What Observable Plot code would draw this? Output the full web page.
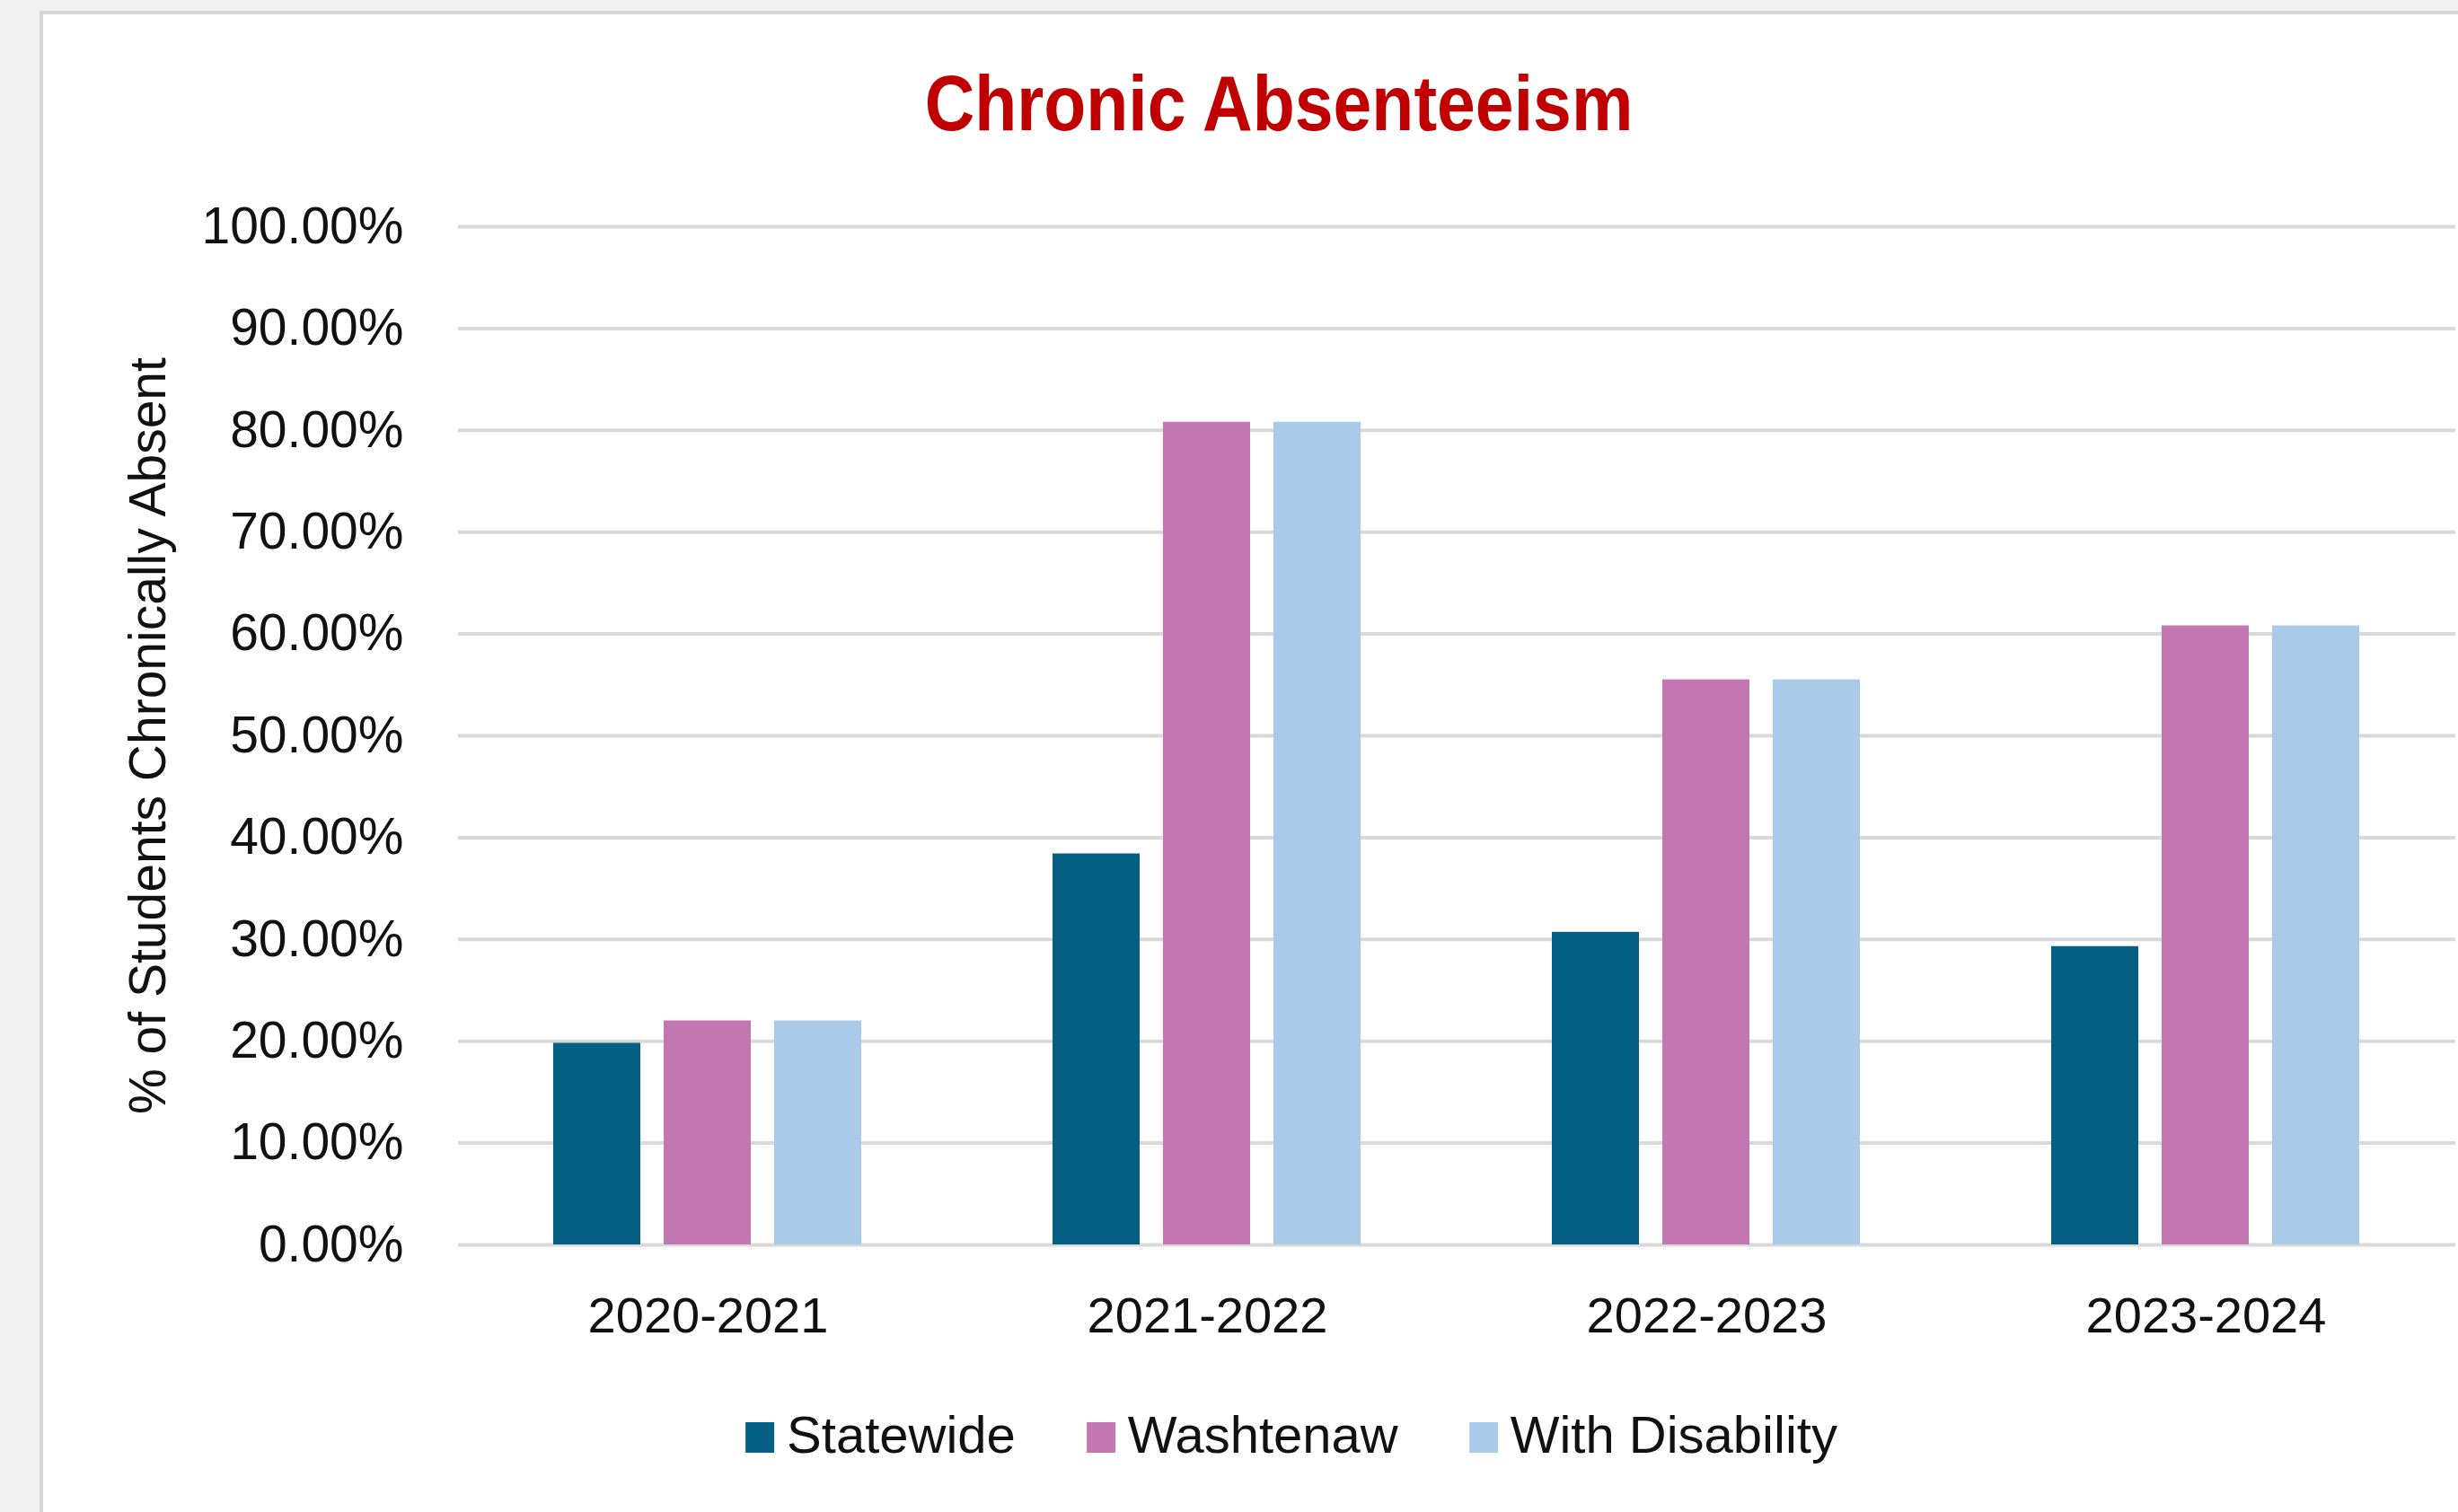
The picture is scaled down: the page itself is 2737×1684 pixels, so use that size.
<!DOCTYPE html>
<html>
<head>
<meta charset="utf-8">
<script src="https://cdn.jsdelivr.net/npm/d3@7"></script>
<script src="https://cdn.jsdelivr.net/npm/@observablehq/plot@0.6"></script>
<style>
  html, body { margin: 0; padding: 0; overflow: hidden; width: 2737px; height: 1684px; background: #f3f2f2; }
  #box { position: absolute; left: 44px; top: 12px; width: 3000px; height: 2000px; background: #ffffff;
         border-left: 4px solid #d6d6d6; border-top: 4px solid #d6d6d6; }
  #chart { position: absolute; left: 0; top: 0; }
  #title { position: absolute; left: 1424px; top: 71px; font-family: "Liberation Sans", Arial, sans-serif;
           font-weight: bold; font-size: 88px; line-height: 1; color: #c00000; white-space: nowrap;
           transform: translateX(-50%) scaleX(0.875); }
  #legend { position: absolute; left: 1438px; top: 1569px; transform: translateX(-50%);
            font-family: "Liberation Sans", Arial, sans-serif; font-size: 58px; line-height: 1; color: #111; white-space: nowrap; }
  .item { display: inline-block; margin-right: 79px; }
  .item:last-child { margin-right: 0; }
  .sw { display: inline-block; width: 32px; height: 34px; margin-right: 14px; vertical-align: baseline; }
</style>
</head>
<body>
<div id="box"></div>
<div id="chart"></div>
<div id="title">Chronic Absenteeism</div>
<div id="legend"></div>
<script>
const years = ["2020-2021", "2021-2022", "2022-2023", "2023-2024"];
const series = ["Statewide", "Washtenaw", "With Disability"];
const colors = ["#055e84", "#c277b2", "#a9cbe9"];
const statewide = [19.8, 38.4, 30.7, 29.3];
const washtenaw = [22.0, 80.8, 55.5, 60.8];
const withDisability = [22.0, 80.8, 55.5, 60.8];
const yTicks = [0, 10, 20, 30, 40, 50, 60, 70, 80, 90, 100];
const yLabel = "% of Students Chronically Absent";

const seriesValues = [statewide, washtenaw, withDisability];
const rows = [];
years.forEach((yr, i) => series.forEach((s, j) => rows.push({year: yr, series: s, value: seriesValues[j][i]})));

const plot = Plot.plot({
  width: 2737,
  height: 1530,
  marginTop: 252,
  marginBottom: 144,
  marginLeft: 510,
  marginRight: 3,
  style: {fontFamily: "'Liberation Sans', Arial, sans-serif", fontSize: "56px", color: "#111", background: "transparent", overflow: "visible"},
  fx: {domain: years, padding: 0, label: null},
  x: {domain: series, paddingInner: 0.21, paddingOuter: 0.856, axis: null},
  y: {domain: [0, 100]},
  color: {domain: series, range: colors},
  marks: [
    Plot.gridY(yTicks, {stroke: "#d9d9d9", strokeWidth: 4, strokeOpacity: 1}),
    Plot.barY(rows, {fx: "year", x: "series", y: "value", fill: "series"}),
    Plot.axisY({ticks: yTicks, tickFormat: d => d.toFixed(2) + "%", tickSize: 0, tickPadding: 61,
                label: yLabel, labelAnchor: "center", labelOffset: 367, labelArrow: "none", fontSize: 57}),
    Plot.axisFx({anchor: "bottom", tickSize: 0, tickPadding: 58, label: null})
  ]
});
document.getElementById("chart").appendChild(plot);

const legend = document.getElementById("legend");
series.forEach((s, j) => {
  const item = document.createElement("span");
  item.className = "item";
  const sw = document.createElement("span");
  sw.className = "sw";
  sw.style.background = colors[j];
  item.appendChild(sw);
  item.appendChild(document.createTextNode(s));
  legend.appendChild(item);
});
</script>
</body>
</html>
